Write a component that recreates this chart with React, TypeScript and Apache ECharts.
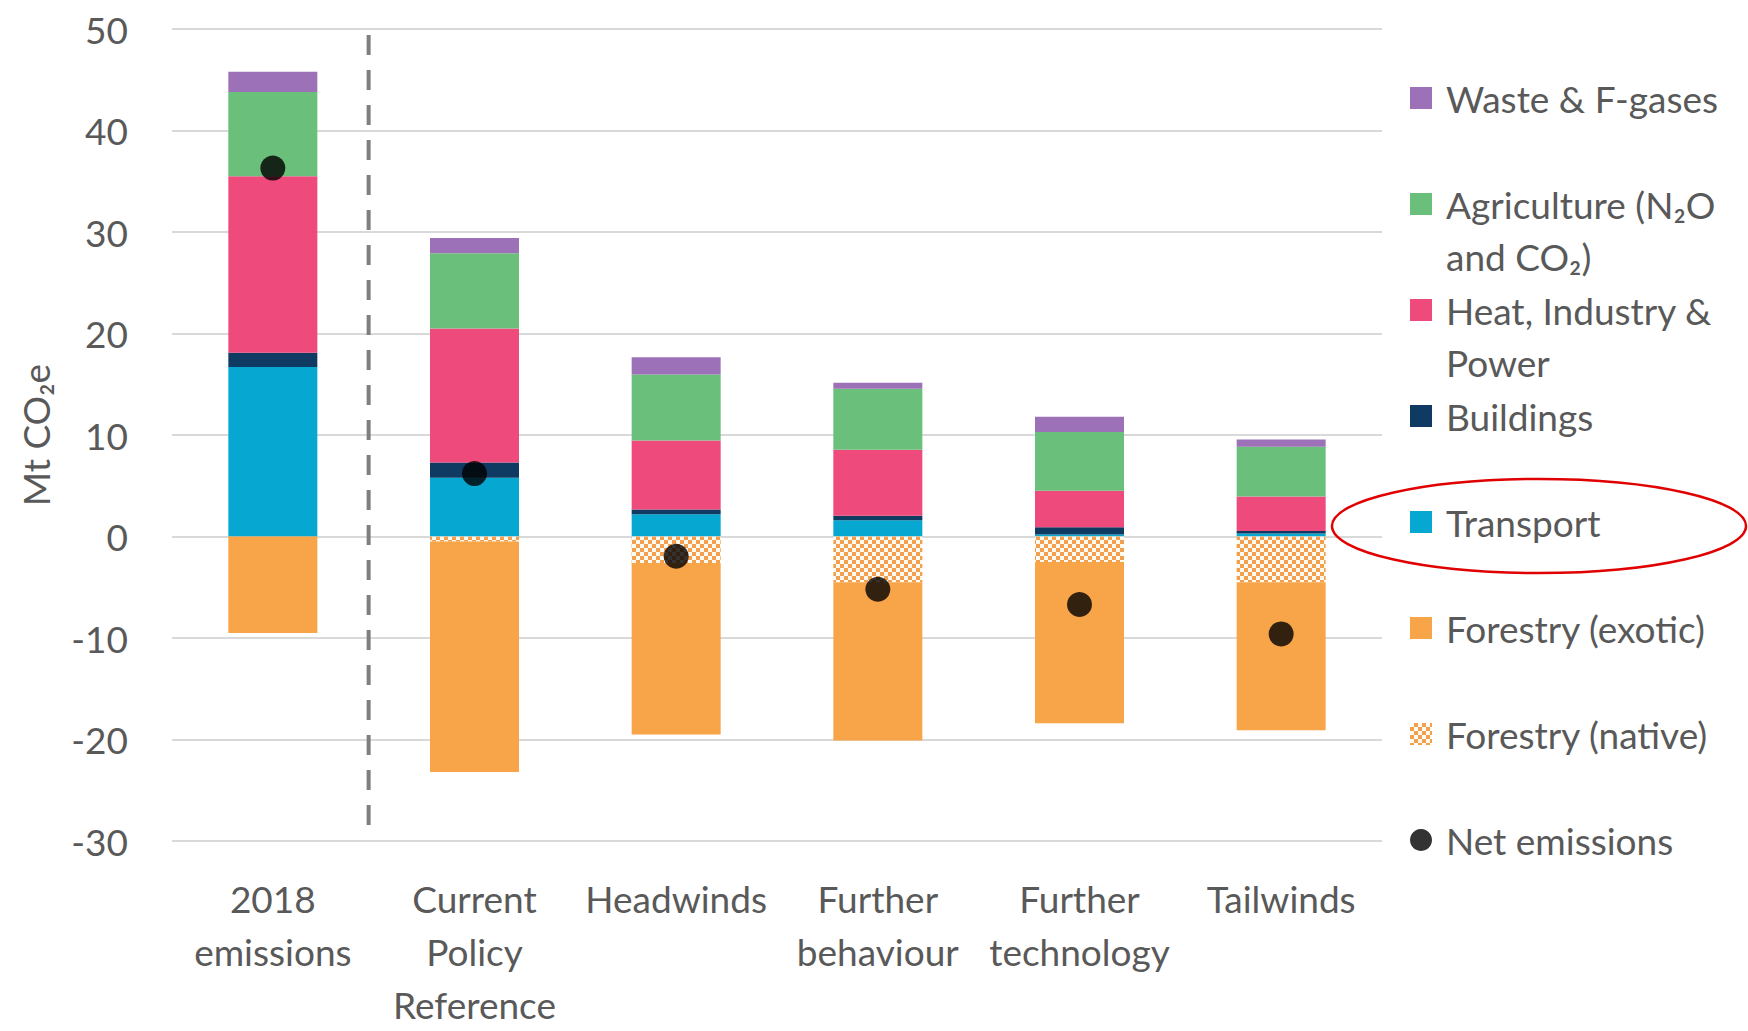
import React, { useEffect, useRef } from 'react';
import * as echarts from 'echarts';

const categories = [
  '2018\nemissions',
  'Current\nPolicy\nReference',
  'Headwinds',
  'Further\nbehaviour',
  'Further\ntechnology',
  'Tailwinds',
];
const transport = [16.7, 5.8, 2.2, 1.6, 0.2, 0.3];
const buildings = [1.4, 1.5, 0.45, 0.45, 0.7, 0.25];
const heat = [17.4, 13.2, 6.8, 6.5, 3.6, 3.4];
const agriculture = [8.3, 7.4, 6.5, 6.0, 5.8, 4.9];
const waste = [2.0, 1.5, 1.7, 0.6, 1.5, 0.7];
const forestryNative = [0, -0.5, -2.6, -4.5, -2.5, -4.5];
const forestryExotic = [-9.5, -22.7, -16.9, -15.6, -15.9, -14.6];
const netEmissions = [36.3, 6.2, -1.95, -5.2, -6.7, -9.6];

const yMin = -30;
const yMax = 50;
const yInterval = 10;

const names = {
  waste: 'Waste & F-gases',
  agri: 'Agriculture (N₂O and CO₂)',
  heat: 'Heat, Industry & Power',
  buildings: 'Buildings',
  transport: 'Transport',
  exotic: 'Forestry (exotic)',
  native: 'Forestry (native)',
  net: 'Net emissions',
};
const legendFirstLine: Record<string, string> = {
  [names.agri]: 'Agriculture (N₂O',
  [names.heat]: 'Heat, Industry &',
};
const legendSecondLine = [
  { text: 'and CO₂)', after: names.agri },
  { text: 'Power', after: names.heat },
];

const FONT = 'Lato';
const TXT = '#595959';
const FS = 37;

export default function App() {
  const ref = useRef<HTMLDivElement>(null);
  useEffect(() => {
    document.body.style.margin = '0';
    const chart = echarts.init(ref.current!, null, { renderer: 'svg' });
    const barBase = { type: 'bar', stack: 'total', barWidth: 89 } as any;
    chart.setOption({
      animation: false,
      backgroundColor: '#ffffff',
      textStyle: { fontFamily: FONT },
      grid: { left: 172, right: 366, top: 29, bottom: 180, containLabel: false },
      legend: {
        orient: 'vertical',
        left: 1410,
        top: 78,
        padding: 0,
        itemWidth: 22,
        itemHeight: 22,
        itemGap: 66,
        selectedMode: false,
        data: [
          { name: names.waste, icon: 'rect' },
          { name: names.agri, icon: 'rect' },
          { name: names.heat, icon: 'rect' },
          { name: names.buildings, icon: 'rect' },
          { name: names.transport, icon: 'rect' },
          { name: names.exotic, icon: 'rect' },
          { name: names.native, icon: 'rect' },
          { name: names.net, icon: 'circle' },
        ],
        formatter: (n: string) => legendFirstLine[n] || n,
        textStyle: { fontFamily: FONT, fontSize: FS, color: TXT, lineHeight: 40, padding: [0, 0, 0, 9] },
      },
      xAxis: {
        type: 'category',
        data: categories,
        axisLine: { show: false, onZero: false },
        axisTick: { show: false },
        axisLabel: {
          interval: 0,
          margin: 31,
          fontFamily: FONT,
          fontSize: FS,
          color: TXT,
          lineHeight: 53,
        },
      },
      yAxis: {
        type: 'value',
        min: yMin,
        max: yMax,
        interval: yInterval,
        name: 'Mt CO₂e',
        nameLocation: 'middle',
        nameGap: 118,
        nameTextStyle: { fontFamily: FONT, fontSize: FS, color: TXT },
        axisLine: { show: false },
        axisTick: { show: false },
        axisLabel: { margin: 44, fontFamily: FONT, fontSize: FS, color: TXT },
        splitLine: { lineStyle: { color: '#d9d9d9', width: 2 } },
      },
      series: [
        { ...barBase, name: names.transport, data: transport, itemStyle: { color: '#06a8d2' } },
        { ...barBase, name: names.buildings, data: buildings, itemStyle: { color: '#0f3a62' } },
        { ...barBase, name: names.heat, data: heat, itemStyle: { color: '#ee4a7c' } },
        { ...barBase, name: names.agri, data: agriculture, itemStyle: { color: '#6abf7b' } },
        { ...barBase, name: names.waste, data: waste, itemStyle: { color: '#9c71b7' } },
        {
          ...barBase,
          name: names.native,
          data: forestryNative,
          itemStyle: {
            color: '#fffaf0',
            decal: {
              symbol: 'rect',
              symbolSize: 1,
              color: '#f2a050',
              dashArrayX: [[4, 4], [0, 4, 4, 0]],
              dashArrayY: [4, 0],
              rotation: 0,
            },
          },
        },
        { ...barBase, name: names.exotic, data: forestryExotic, itemStyle: { color: '#f8a448' } },
        {
          type: 'scatter',
          name: names.net,
          data: netEmissions,
          symbol: 'circle',
          symbolSize: 25,
          z: 10,
          itemStyle: { color: '#000000' },
        },
      ],
    });

    const x0 = chart.convertToPixel({ xAxisIndex: 0 }, 0) as number;
    const x1 = chart.convertToPixel({ xAxisIndex: 0 }, 1) as number;
    const sepX = x0 + (x1 - x0) * 0.475;
    const sepTop = chart.convertToPixel({ yAxisIndex: 0 }, 49.4) as number;
    const sepBot = chart.convertToPixel({ yAxisIndex: 0 }, -29.3) as number;

    chart.setOption({
      graphic: [
        {
          id: 'sep',
          type: 'line',
          z: 5,
          shape: { x1: sepX, y1: sepTop, x2: sepX, y2: sepBot },
          style: { stroke: '#7f7f7f', lineWidth: 4, lineDash: [20, 15] },
        },
        {
          id: 'l2a',
          type: 'text',
          left: 1446,
          top: 256 - 20,
          style: { text: legendSecondLine[0].text, font: `${FS}px ${FONT}`, fill: TXT, lineHeight: 40 },
        },
        {
          id: 'l2b',
          type: 'text',
          left: 1446,
          top: 362 - 20,
          style: { text: legendSecondLine[1].text, font: `${FS}px ${FONT}`, fill: TXT, lineHeight: 40 },
        },
        {
          id: 'ring',
          type: 'ellipse',
          z: 20,
          shape: { cx: 1539, cy: 526, rx: 207, ry: 47 },
          style: { fill: 'none', stroke: '#e00000', lineWidth: 2.5 },
        },
      ],
    });

    return () => chart.dispose();
  }, []);
  return <div ref={ref} style={{ width: 1748, height: 1031 }} />;
}
